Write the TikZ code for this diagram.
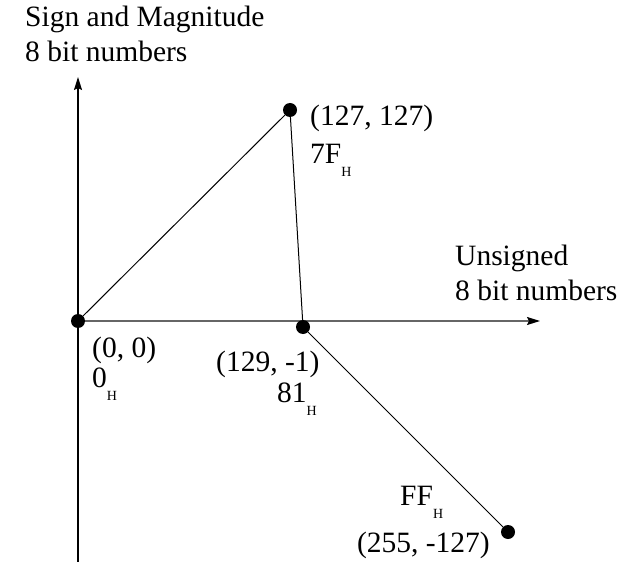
\documentclass[tikz,border=0pt]{standalone}
\usepackage{fontspec}
\setmainfont{Liberation Serif}
\usetikzlibrary{arrows.meta}
\newcommand{\Hsub}{\raisebox{-13bp}{\fontsize{14bp}{14bp}\selectfont H}}
\tikzset{
  lbl/.style={anchor=base west, inner sep=0pt, font=\fontsize{29.5bp}{35bp}\selectfont},
  lble/.style={lbl, anchor=base east},
  dot/.style={circle, fill=black, inner sep=0pt, minimum size=14bp},
  edge/.style={line width=1bp, black},
  axis/.style={line width=1.4bp, -{Stealth[length=13bp,width=8bp,inset=2bp]}},
}
\begin{document}
\begin{tikzpicture}[x=1bp,y=-1bp]
\useasboundingbox (0,0) rectangle (630,562);
% axes
\coordinate (vb) at (78,562);
\coordinate (vt) at (78,77);
\coordinate (hl) at (78,321);
\coordinate (hr) at (540,321);
\draw[axis, black] (vb) -- (vt);
\draw[axis, gray!80!black, -{Stealth[length=13bp,width=8bp,inset=2bp,color=black]}] (hl) -- (hr);
% points
\node[dot] (o) at (78,321) {};
\node[dot] (p127) at (290,110) {};
\node[dot] (p129) at (303,327) {};
\node[dot] (p255) at (508,532) {};
\draw[edge] (o) -- (p127);
\draw[edge] (p127) -- (p129);
\draw[edge] (p129) -- (p255);
% labels
\node[lbl] (t1) at (25,27) {Sign and Magnitude};
\node[lbl] (t2) at (25,62) {8 bit numbers};
\node[lbl] (u1) at (455,265) {Unsigned};
\node[lbl] (u2) at (455,300) {8 bit numbers};
\node[lbl] (a1) at (310,126) {(127, 127)};
\node[lbl] (a2) at (310,164) {7F\Hsub};
\node[lbl] (b1) at (92,357) {(0, 0)};
\node[lbl] (b2) at (92,387) {0\Hsub};
\node[lbl] (c1) at (216,371) {(129, -1)};
\node[lbl] (c2) at (277,402) {81\Hsub};
\node[lbl] (d1) at (400,505) {FF\Hsub};
\node[lble] (d2) at (490,552) {(255, -127)};
\end{tikzpicture}
\end{document}
